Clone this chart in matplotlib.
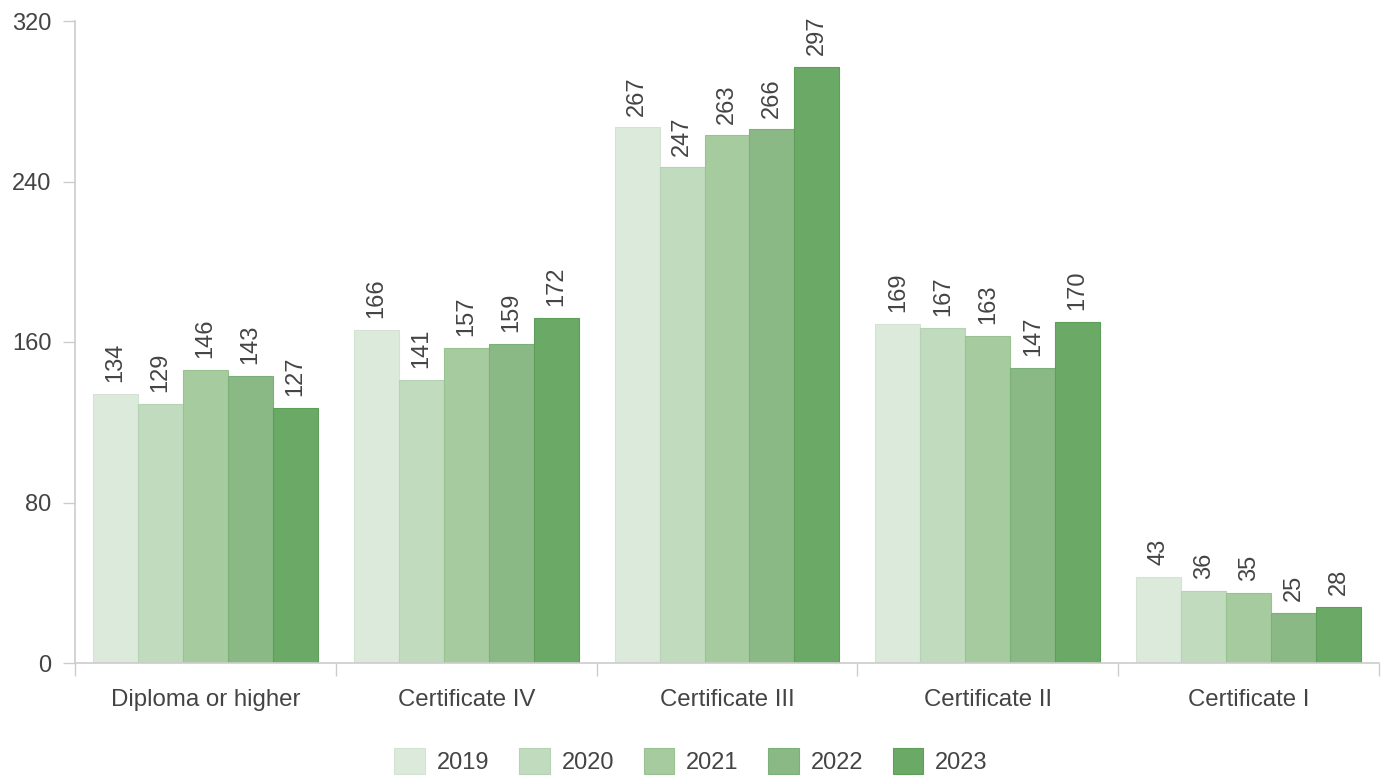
import numpy as np
import matplotlib
matplotlib.use('Agg')
from matplotlib import pyplot as plt

plt.rcParams['font.family'] = ['Liberation Sans', 'DejaVu Sans']

categories = ['Diploma or higher', 'Certificate IV', 'Certificate III', 'Certificate II', 'Certificate I']
years = ['2019', '2020', '2021', '2022', '2023']
v2019 = [134, 166, 267, 169, 43]
v2020 = [129, 141, 247, 167, 36]
v2021 = [146, 157, 263, 163, 35]
v2022 = [143, 159, 266, 147, 25]
v2023 = [127, 172, 297, 170, 28]
series = [v2019, v2020, v2021, v2022, v2023]

colors = ['#dceadb', '#c1dbbf', '#a6cb9f', '#8ab985', '#6ba966']
edges = ['#d2e3d1', '#b5d3b3', '#98c391', '#7bb076', '#5e9e58']
txt = '#444444'
grey = '#cccccc'

fig = plt.figure(figsize=(13.85, 7.78), dpi=100)
ax = fig.add_axes([75/1385, 115/778, 1304/1385, 642/778])

w = 0.1724
centers = np.arange(len(categories)) + 0.5
for j, vals in enumerate(series):
    xs = centers + (j - 2) * w
    ax.bar(xs, vals, width=w, color=colors[j], edgecolor=edges[j], linewidth=0.8, label=years[j])
    for x, v in zip(xs, vals):
        ax.annotate(str(v), (x, v), xytext=(0, 8.5), textcoords='offset points',
                    rotation=90, ha='center', va='bottom', fontsize=17, color=txt)

ax.set_xlim(0, 5)
ax.set_ylim(0, 320)
ax.set_yticks([0, 80, 160, 240, 320])
ax.tick_params(axis='y', length=9, width=1, color=grey, pad=8, labelsize=17, labelcolor=txt)

ax.set_xticks(np.arange(0, 6))
ax.set_xticklabels([])
ax.set_xticks(centers, minor=True)
ax.set_xticklabels(categories, minor=True)
ax.tick_params(axis='x', which='major', length=9.5, width=1, color=grey)
ax.tick_params(axis='x', which='minor', length=0, pad=19, labelsize=17.3, labelcolor=txt)

for s in ['top', 'right']:
    ax.spines[s].set_visible(False)
for s in ['left', 'bottom']:
    ax.spines[s].set_color(grey)
    ax.spines[s].set_linewidth(1.2)

leg = fig.legend(loc='center', bbox_to_anchor=(691/1385, 1 - 761/778), ncol=5, frameon=False,
                 fontsize=17, handlelength=1.3, handleheight=1.3, handletextpad=0.5,
                 columnspacing=1.25)
for t in leg.get_texts():
    t.set_color(txt)

fig.savefig('out.png', dpi=100)
